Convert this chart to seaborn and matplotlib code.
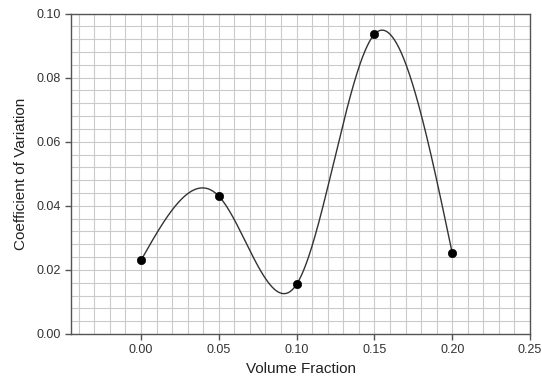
import numpy as np
import pandas as pd
import matplotlib
matplotlib.use("Agg")
import matplotlib.pyplot as plt
import seaborn as sns
from matplotlib.ticker import MultipleLocator

volume_fraction = [0.00, 0.05, 0.10, 0.15, 0.20]
coef_variation = [0.0230, 0.0430, 0.0155, 0.0935, 0.0253]
x_ticks = [0.00, 0.05, 0.10, 0.15, 0.20, 0.25]
y_ticks = [0.00, 0.02, 0.04, 0.06, 0.08, 0.10]


def natural_cubic_spline(x, y, xs):
    x = np.asarray(x, float); y = np.asarray(y, float)
    n = len(x)
    h = np.diff(x)
    A = np.zeros((n, n)); b = np.zeros(n)
    A[0, 0] = 1; A[-1, -1] = 1
    for i in range(1, n - 1):
        A[i, i - 1] = h[i - 1]
        A[i, i] = 2 * (h[i - 1] + h[i])
        A[i, i + 1] = h[i]
        b[i] = 3 * ((y[i + 1] - y[i]) / h[i] - (y[i] - y[i - 1]) / h[i - 1])
    c = np.linalg.solve(A, b)
    bb = np.zeros(n - 1); d = np.zeros(n - 1)
    for i in range(n - 1):
        bb[i] = (y[i + 1] - y[i]) / h[i] - h[i] * (2 * c[i] + c[i + 1]) / 3
        d[i] = (c[i + 1] - c[i]) / (3 * h[i])
    idx = np.clip(np.searchsorted(x, xs) - 1, 0, n - 2)
    dx = xs - x[idx]
    return y[idx] + bb[idx] * dx + c[idx] * dx ** 2 + d[idx] * dx ** 3


sns.set_style("white")
plt.rcParams['font.family'] = ['Liberation Sans', 'DejaVu Sans']

fig = plt.figure(figsize=(5.42, 3.81), dpi=100)
ax = fig.add_axes([71 / 542, 47 / 381, 459 / 542, 320.5 / 381])

xs = np.linspace(min(volume_fraction), max(volume_fraction), 400)
curve = pd.DataFrame({"x": xs, "y": natural_cubic_spline(volume_fraction, coef_variation, xs)})
pts = pd.DataFrame({"x": volume_fraction, "y": coef_variation})

sns.lineplot(data=curve, x="x", y="y", ax=ax, color="#333333", linewidth=1.0, zorder=3)
sns.scatterplot(data=pts, x="x", y="y", ax=ax, color="black", s=36, edgecolor="black", zorder=4)

ax.set_xlim(-0.045, 0.25)
ax.set_ylim(0, 0.10)
ax.set_xticks(x_ticks)
ax.set_yticks(y_ticks)
ax.set_xticklabels([f"{t:.2f}" for t in x_ticks])
ax.set_yticklabels([f"{t:.2f}" for t in y_ticks])
ax.xaxis.set_minor_locator(MultipleLocator(0.01))
ax.yaxis.set_minor_locator(MultipleLocator(0.004))
ax.grid(True, which="both", color="#cacaca", linewidth=0.8)
ax.set_axisbelow(True)

for s in ax.spines.values():
    s.set_color("#555555")
    s.set_linewidth(1.0)
ax.tick_params(axis="both", which="major", direction="out", length=4, width=1,
               color="#555555", labelsize=9, labelcolor="#333333", bottom=True, left=True)
ax.tick_params(axis="both", which="minor", length=0)

ax.set_xlabel("Volume Fraction", fontsize=11, color="#222222")
ax.set_ylabel("Coefficient of Variation", fontsize=11, color="#222222", labelpad=6)

fig.savefig("out.png", dpi=100)
